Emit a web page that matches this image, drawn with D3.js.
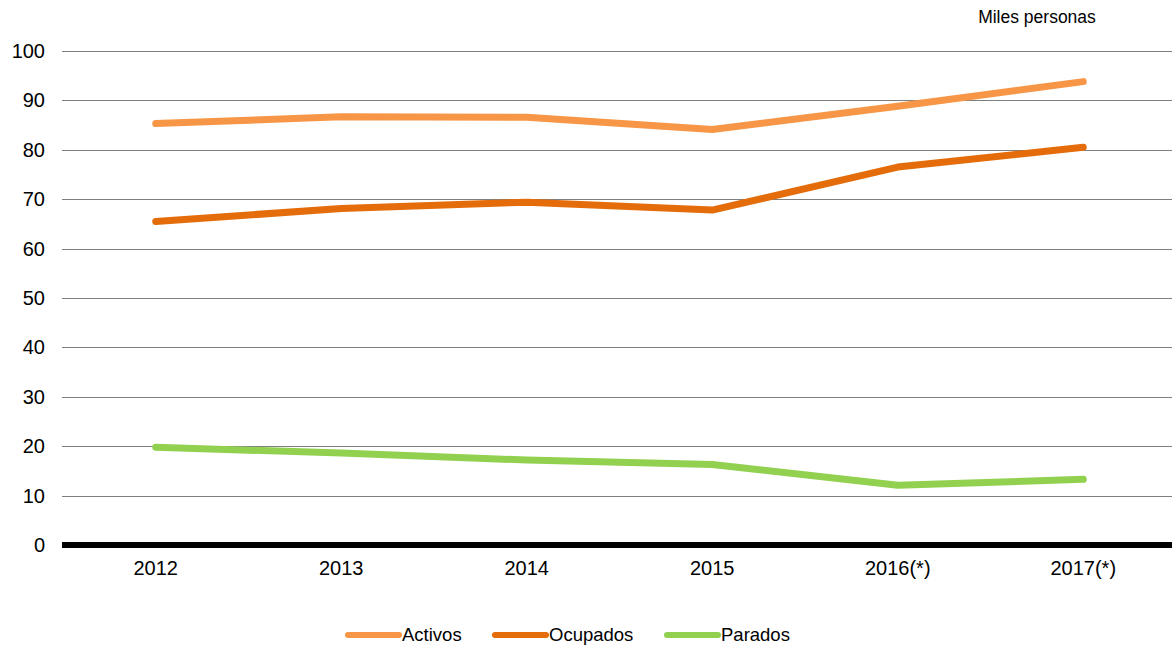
<!DOCTYPE html>
<html>
<head>
<meta charset="utf-8">
<script src="https://cdn.jsdelivr.net/npm/d3@7"></script>
<style>
  body { margin: 0; background: #fff; }
  svg { font-family: "Liberation Sans", Arial, sans-serif; }
</style>
</head>
<body>
<svg id="chart" width="1172" height="651"></svg>
<script>
var years = ["2012", "2013", "2014", "2015", "2016(*)", "2017(*)"];
var activos = [85.3, 86.7, 86.6, 84.1, 88.8, 93.8];
var ocupados = [65.5, 68.1, 69.4, 67.8, 76.5, 80.5];
var parados = [19.8, 18.6, 17.2, 16.3, 12.1, 13.3];
var yTicks = [0, 10, 20, 30, 40, 50, 60, 70, 80, 90, 100];

var series = [
    { name: "Activos", values: activos, color: "#F79646" },
    { name: "Ocupados", values: ocupados, color: "#E46C0A" },
    { name: "Parados", values: parados, color: "#92D050" }
];

var svg = d3.select("#chart");
var plotLeft = 62, plotRight = 1172, plotTop = 51, plotBottom = 545;

// the category bands run a bit past the right edge of the picture
var x = d3.scaleBand().domain(years).range([plotLeft + 1, plotRight + 4]);
var y = d3.scaleLinear().domain([0, 100]).range([plotBottom, plotTop]);

// grid lines
svg.append("g").selectAll("line")
    .data(yTicks.filter(function(d) { return d > 0; }))
  .enter()
    .append("line")
    .attr("x1", plotLeft).attr("x2", plotRight)
    .attr("y1", function(d) { return Math.round(y(d)) + 0.5; })
    .attr("y2", function(d) { return Math.round(y(d)) + 0.5; })
    .attr("stroke", "#7f7f7f")
    .attr("stroke-width", 1);

// y labels
svg.append("g").selectAll("text")
    .data(yTicks)
  .enter()
    .append("text")
    .attr("x", 45)
    .attr("y", function(d) { return y(d); })
    .attr("dy", "0.35em")
    .attr("text-anchor", "end")
    .attr("font-size", 20)
    .attr("fill", "#000")
    .text(function(d) { return d; });

// x axis (thick baseline)
var xAxis = svg.append("g")
    .attr("transform", "translate(0," + plotBottom + ")")
    .call(d3.axisBottom(x).tickSize(0).tickPadding(16));
xAxis.select(".domain").attr("stroke", "#000").attr("stroke-width", 6)
    .attr("d", "M" + plotLeft + ",0H" + plotRight);
xAxis.selectAll("text")
    .attr("font-size", 20)
    .attr("font-family", "Liberation Sans, Arial, sans-serif")
    .attr("fill", "#000");

// lines
var line = d3.line()
    .x(function(d, i) { return x(years[i]) + x.bandwidth() / 2; })
    .y(function(d) { return y(d); });

svg.append("g").selectAll("path")
    .data(series)
  .enter()
    .append("path")
    .attr("d", function(d) { return line(d.values); })
    .attr("fill", "none")
    .attr("stroke", function(d) { return d.color; })
    .attr("stroke-width", 7)
    .attr("stroke-linecap", "round")
    .attr("stroke-linejoin", "round");

// units label
svg.append("text")
    .attr("x", 1037).attr("y", 23)
    .attr("text-anchor", "middle")
    .attr("font-size", 17.5)
    .attr("fill", "#000")
    .text("Miles personas");

// legend
var legendX = [348, 495, 667];
var legend = svg.append("g").selectAll("g")
    .data(series)
  .enter()
    .append("g")
    .attr("transform", function(d, i) { return "translate(" + legendX[i] + ",635)"; });
legend.append("line")
    .attr("x1", 0).attr("x2", 51)
    .attr("stroke", function(d) { return d.color; })
    .attr("stroke-width", 6)
    .attr("stroke-linecap", "round");
legend.append("text")
    .attr("x", 54)
    .attr("dy", "0.35em")
    .attr("font-size", 18.5)
    .attr("fill", "#000")
    .text(function(d) { return d.name; });
</script>
</body>
</html>
